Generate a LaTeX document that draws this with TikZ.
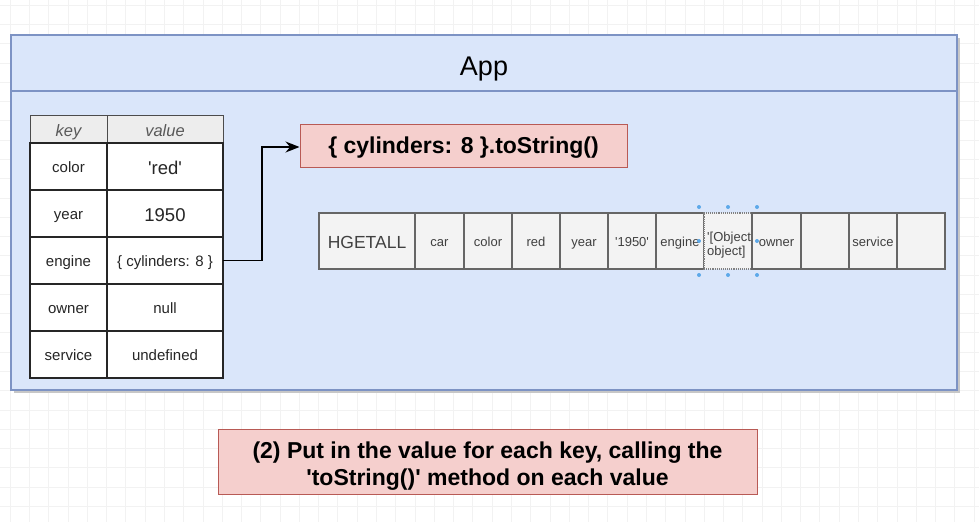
\documentclass[tikz,border=0pt]{standalone}
\usepackage{fontspec}
\setmainfont{Liberation Sans}[Ligatures=TeXOff]
\usetikzlibrary{arrows.meta}
\definecolor{appfill}{HTML}{DAE6FA}
\definecolor{appdraw}{HTML}{7D93C4}
\definecolor{redfill}{HTML}{F5CFCD}
\definecolor{reddraw}{HTML}{B85A55}
\definecolor{cellfill}{HTML}{F3F3F3}
\definecolor{hdrfill}{HTML}{EDEDED}
\definecolor{gridc}{HTML}{F2F2F2}
\definecolor{selc}{HTML}{5DA9E9}
\tikzset{
  tcell/.style={draw=black!85, line width=1.3pt, fill=white, minimum width=#1, minimum height=47pt, inner sep=0pt, outer sep=0pt, text height=13pt, text depth=2pt, font=\fontsize{15}{17}\selectfont, text=black!85},
  hcell/.style={draw=black!70, line width=1pt, fill=hdrfill, minimum width=#1, minimum height=28pt, inner sep=0pt, outer sep=0pt, text height=16pt, text depth=2pt, font=\fontsize{16.5}{18}\selectfont\itshape, text=black!65},
  scell/.style={draw=black!60, line width=1.1pt, fill=cellfill, minimum width=#1, minimum height=56pt, inner sep=0pt, outer sep=0pt, text height=13pt, text depth=2pt, font=\fontsize{13}{14.5}\selectfont, text=black!75},
  notebox/.style={draw=reddraw, line width=1pt, fill=redfill, inner sep=0pt, align=center},
  seldot/.style={circle, fill=selc, inner sep=0pt, minimum size=4pt},
}
\begin{document}
\begin{tikzpicture}[x=1pt,y=-1pt]
\useasboundingbox (0,0) rectangle (979,522);
\fill[white] (0,0) rectangle (979,522);
% faint grid
\foreach \i in {0,...,50} {
  \draw[gridc, line width=0.6pt] ({10+19.28*\i},0) -- ({10+19.28*\i},522);
}
\foreach \j in {0,...,27} {
  \draw[gridc, line width=0.6pt] (0,{5+19.28*\j}) -- (979,{5+19.28*\j});
}
% App container
\fill[black!22] (14,38) rectangle (960,393);
\node[draw=appdraw, line width=1.2pt, fill=appfill, minimum width=946pt, minimum height=355pt, anchor=north west, inner sep=0pt, outer sep=0pt] (app) at (11,35) {};
\draw[appdraw, line width=1.2pt] (11,91) -- (957,91);
\node[font=\fontsize{27}{29}\selectfont] (apptitle) at (484,69) {App};
% table header
\node[hcell=77pt] (hk) at (68.5,129) {key};
\node[hcell=116pt] (hv) at (165,129) {value};
% table rows
\node[tcell=77pt] (k1) at (68.5,166.5) {color};
\node[tcell=116pt, font=\fontsize{18.5}{20}\selectfont, text height=18pt, text depth=2pt] (v1) at (165,166.5) {'red'};
\node[tcell=77pt] (k2) at (68.5,213.5) {year};
\node[tcell=116pt, font=\fontsize{18.5}{20}\selectfont, text height=18pt, text depth=2pt] (v2) at (165,213.5) {1950};
\node[tcell=77pt] (k3) at (68.5,260.5) {engine};
\node[tcell=116pt] (v3) at (165,260.5) {\{ cylinders: 8 \}};
\node[tcell=77pt] (k4) at (68.5,307.5) {owner};
\node[tcell=116pt] (v4) at (165,307.5) {null};
\node[tcell=77pt] (k5) at (68.5,354.5) {service};
\node[tcell=116pt] (v5) at (165,354.5) {undefined};
% red note
\node[notebox, minimum width=327pt, minimum height=43pt, font=\bfseries\fontsize{23}{26}\selectfont, text height=18pt, text depth=2pt] (tostr) at (463.5,145.5) {\{ cylinders: 8 \}.toString()};
\draw[line width=1.3pt, -{Stealth[length=14pt,width=11pt]}] (v3.east) -- (262,260.5) -- (262,147) -- (tostr.west |- 0,147);
% HGETALL strip
\node[scell=96pt, font=\fontsize{17.5}{19}\selectfont, text height=16pt, text depth=2pt] (c0) at (367,241) {HGETALL};
\node[scell=49pt, anchor=west] (c1) at (c0.east) {car};
\node[scell=48pt, anchor=west] (c2) at (c1.east) {color};
\node[scell=48pt, anchor=west] (c3) at (c2.east) {red};
\node[scell=48pt, anchor=west] (c4) at (c3.east) {year};
\node[scell=48pt, anchor=west] (c5) at (c4.east) {'1950'};
\node[scell=48pt, anchor=west] (c6) at (c5.east) {engine};
\node[scell=48pt, anchor=west, draw=black!50, densely dotted] (c7) at (c6.east) {};
\node[scell=49pt, anchor=west] (c8) at (c7.east) {owner};
\node[scell=48pt, anchor=west] (c9) at (c8.east) {};
\node[scell=48pt, anchor=west] (c10) at (c9.east) {service};
\node[scell=48pt, anchor=west] (c11) at (c10.east) {};
\node[anchor=west, align=left, inner sep=0pt, font=\fontsize{13}{14.5}\selectfont, text=black!75] (c7t) at ([xshift=3pt,yshift=-4pt]c7.west) {'[Object\\object]};
% selection handles
\node[seldot] (s1) at (699,207) {};
\node[seldot] (s2) at (728,207) {};
\node[seldot] (s3) at (757,207) {};
\node[seldot] (s4) at (699,241) {};
\node[seldot] (s5) at (757,241) {};
\node[seldot] (s6) at (699,275) {};
\node[seldot] (s7) at (728,275) {};
\node[seldot] (s8) at (757,275) {};
% bottom note
\node[notebox, minimum width=539pt, minimum height=65pt] (note) at (487.5,461.5) {};
\node[font=\bfseries\fontsize{23}{27}\selectfont, align=center] (notetext) at (487.5,466) {(2) Put in the value for each key, calling the\\'toString()' method on each value};
\end{tikzpicture}
\end{document}
